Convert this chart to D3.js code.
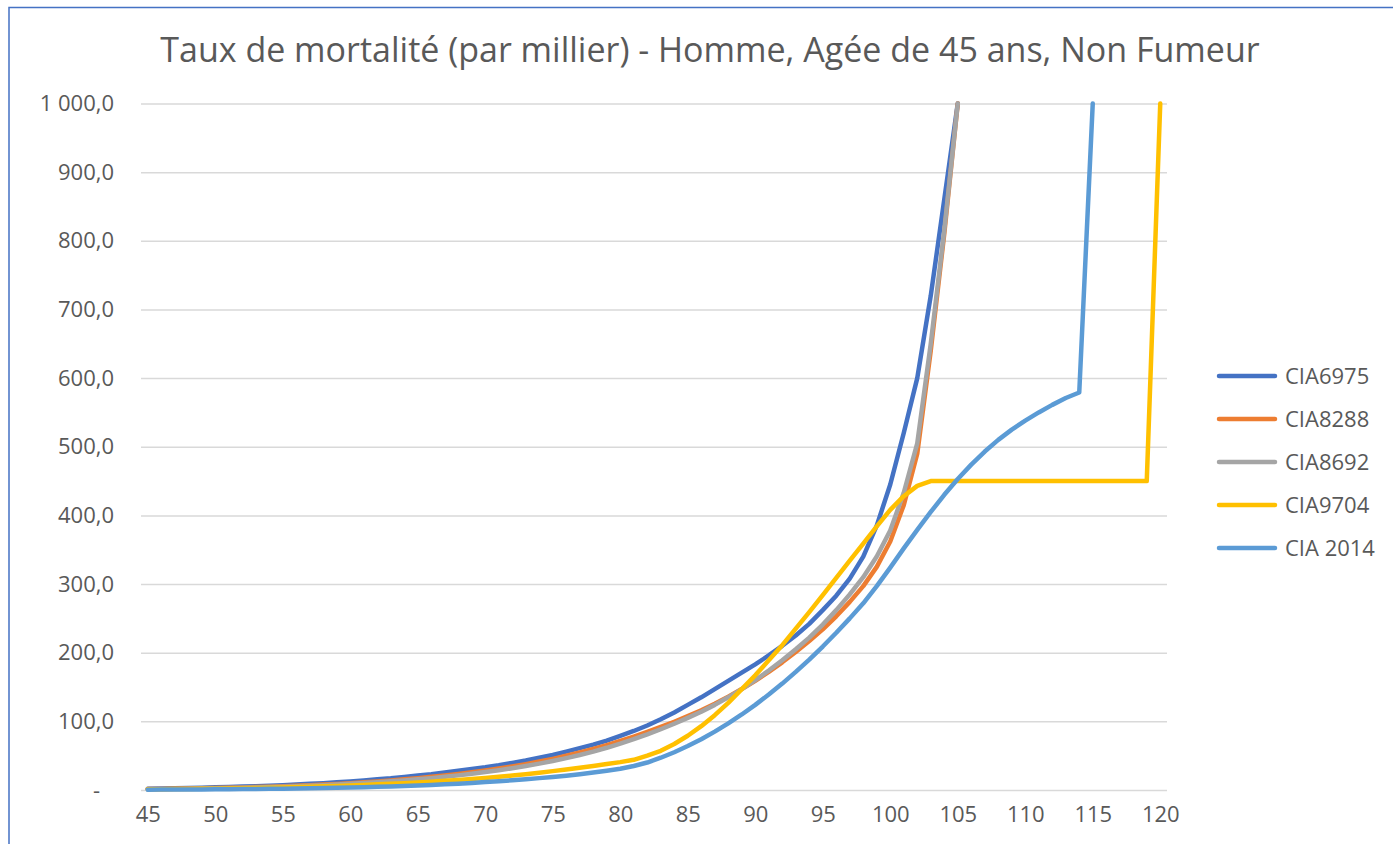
<!DOCTYPE html>
<meta charset="utf-8">
<html>
<head>
  <title>Taux de mortalité</title>
  <style>
    body { margin: 0; background: #fff; }
    svg { display: block; }
    text { font-family: 'Open Sans', 'Liberation Sans', sans-serif; fill: #595959; }
    .grid line { stroke: #d9d9d9; stroke-width: 1.5px; }
    .axis text { font-size: 22px; }
    .serie { fill: none; stroke-width: 4.5px; stroke-linejoin: round; stroke-linecap: round; }
  </style>
  <script src="https://d3js.org/d3.v7.min.js"></script>
</head>
<body>
  <svg width="1393" height="844"></svg>
  <script>
    // ages 45..120 (categories)
    var ages = d3.range(45, 121);
    var names = ["CIA6975", "CIA8288", "CIA8692", "CIA9704", "CIA 2014"];
    var colors = ["#4472c4", "#ed7d31", "#a5a5a5", "#ffc000", "#5b9bd5"];
    var yTicks = [0, 100, 200, 300, 400, 500, 600, 700, 800, 900, 1000];

    // values per mille, starting at age 45
    var cia6975 = [2, 2.3, 2.6, 3, 3.4, 3.9, 4.4, 5, 5.6, 6.3,
      7.1, 8, 9, 10, 11.2, 12.5, 14, 15.5, 17, 19,
      21, 23, 25.5, 28, 30.5, 33, 36, 39.5, 43, 47,
      51, 56, 61, 66, 72, 79, 86, 94, 103, 113,
      124, 135, 147, 159, 171, 183, 196, 210, 225, 242,
      262, 283, 308, 340, 385, 445, 520, 600, 720, 860, 1000];
    var cia8288 = [1.4, 1.6, 1.9, 2.2, 2.5, 2.9, 3.3, 3.8, 4.3, 4.9,
      5.5, 6.2, 7, 7.9, 8.9, 10, 11.2, 12.5, 14, 15.6,
      17.3, 19.2, 21.2, 23.4, 25.8, 28.4, 31.2, 34.3, 37.7, 41.4,
      45.4, 49.8, 54.6, 59.8, 65.4, 71.4, 77.8, 84.6, 91.8, 99.4,
      107.5, 116, 125.5, 136, 147, 159, 172, 186, 201, 217,
      234, 253, 274, 297, 325, 362, 415, 490, 640, 810, 1000];
    var cia8692 = [1.2, 1.4, 1.6, 1.9, 2.2, 2.5, 2.9, 3.3, 3.8, 4.3,
      4.9, 5.6, 6.3, 7.1, 8, 9, 10.1, 11.3, 12.6, 14,
      15.6, 17.3, 19.2, 21.3, 23.6, 26.1, 28.8, 31.7, 34.9, 38.4,
      42.2, 46.4, 51, 56, 61.5, 67.5, 74, 81, 88.5, 96.5,
      105, 114, 124, 135, 147, 160, 174, 189, 205, 222,
      241, 262, 285, 310, 340, 378, 433, 505, 650, 815, 1000];
    var cia9704 = [1, 1.1, 1.3, 1.5, 1.7, 2, 2.3, 2.6, 3, 3.4,
      3.8, 4.3, 4.8, 5.4, 6, 6.7, 7.4, 8.2, 9, 10,
      11, 12.1, 13.3, 14.6, 16, 17.5, 19.2, 21, 23, 25.2,
      27.5, 30, 32.5, 35, 37.8, 40.6, 44, 50, 57, 67,
      79, 93, 109, 127, 147, 167, 189, 211, 235, 259,
      284, 309, 334, 359, 384, 408, 428, 443, 450, 450,
      450, 450, 450, 450, 450, 450, 450, 450, 450, 450,
      450, 450, 450, 450, 450, 1000];
    var cia2014 = [0.5, 0.6, 0.7, 0.8, 0.9, 1, 1.1, 1.3, 1.5, 1.7,
      1.9, 2.2, 2.5, 2.8, 3.2, 3.6, 4.1, 4.6, 5.2, 5.8,
      6.5, 7.3, 8.2, 9.2, 10.3, 11.5, 12.8, 14.2, 15.7, 17.3,
      19, 20.9, 23, 25.4, 28.1, 31, 35, 40, 47, 55,
      64, 74, 85, 97, 110, 124, 139, 155, 172, 190,
      209, 229, 250, 272, 297, 324, 352, 379, 405, 430,
      453, 474, 493, 510, 525, 538, 550, 561, 571, 579, 1000];

    var series = [cia6975, cia8288, cia8692, cia9704, cia2014];

    var svg = d3.select("svg");

    // chart frame (cut by the window on the right and bottom)
    svg.append("rect")
      .attr("x", 9).attr("y", 7.5)
      .attr("width", 1500).attr("height", 900)
      .attr("fill", "none")
      .attr("stroke", "#4472c4")
      .attr("stroke-width", 1.5);

    svg.append("text")
      .attr("x", 710).attr("y", 62)
      .attr("text-anchor", "middle")
      .style("font-size", "34px")
      .text("Taux de mortalité (par millier) - Homme, Agée de 45 ans, Non Fumeur");

    var x = d3.scalePoint().domain(ages).range([141, 1167]).padding(0.5);
    var y = d3.scaleLinear().domain([0, 1000]).range([790, 103.5]);

    var fr = d3.formatLocale({decimal: ",", thousands: "\u00a0", grouping: [3], currency: ["", " €"]});
    var fmt = fr.format(",.1f");

    // horizontal gridlines
    svg.append("g")
      .attr("class", "grid")
      .attr("transform", "translate(141,0)")
      .call(d3.axisRight(y).tickValues(yTicks).tickSize(1167 - 141).tickFormat(""))
      .call(function(g) { g.select(".domain").remove(); });

    // y axis labels
    svg.append("g")
      .attr("class", "axis")
      .attr("transform", "translate(122,0)")
      .call(d3.axisLeft(y).tickValues(yTicks).tickSize(0).tickPadding(8)
        .tickFormat(function(d) { return d === 0 ? "-" : fmt(d); }))
      .call(function(g) { g.select(".domain").remove(); })
      .selectAll("text").attr("dx", function(d) { return d === 0 ? "-14px" : 0; });

    // x axis labels
    svg.append("g")
      .attr("class", "axis")
      .attr("transform", "translate(0,790)")
      .call(d3.axisBottom(x)
        .tickValues(ages.filter(function(a) { return (a - 45) % 5 === 0; }))
        .tickSize(0).tickPadding(16))
      .call(function(g) { g.select(".domain").remove(); });

    var line = d3.line()
      .defined(function(d) { return d != null; })
      .x(function(d, i) { return x(ages[i]); })
      .y(function(d) { return y(d); });

    svg.append("g").selectAll("path")
      .data(series)
      .join("path")
      .attr("class", "serie")
      .attr("stroke", function(d, i) { return colors[i]; })
      .attr("d", line);

    // legend
    var leg = svg.append("g").selectAll("g")
      .data(names)
      .join("g")
      .attr("transform", function(d, i) { return "translate(1219," + (376 + i * 43) + ")"; });
    leg.append("line")
      .attr("x1", 0).attr("x2", 56)
      .attr("stroke", function(d, i) { return colors[i]; })
      .attr("stroke-width", 4.5)
      .attr("stroke-linecap", "round");
    leg.append("text")
      .attr("x", 66).attr("dy", "0.35em")
      .style("font-size", "22px")
      .text(function(d) { return d; });
  </script>
</body>
</html>
